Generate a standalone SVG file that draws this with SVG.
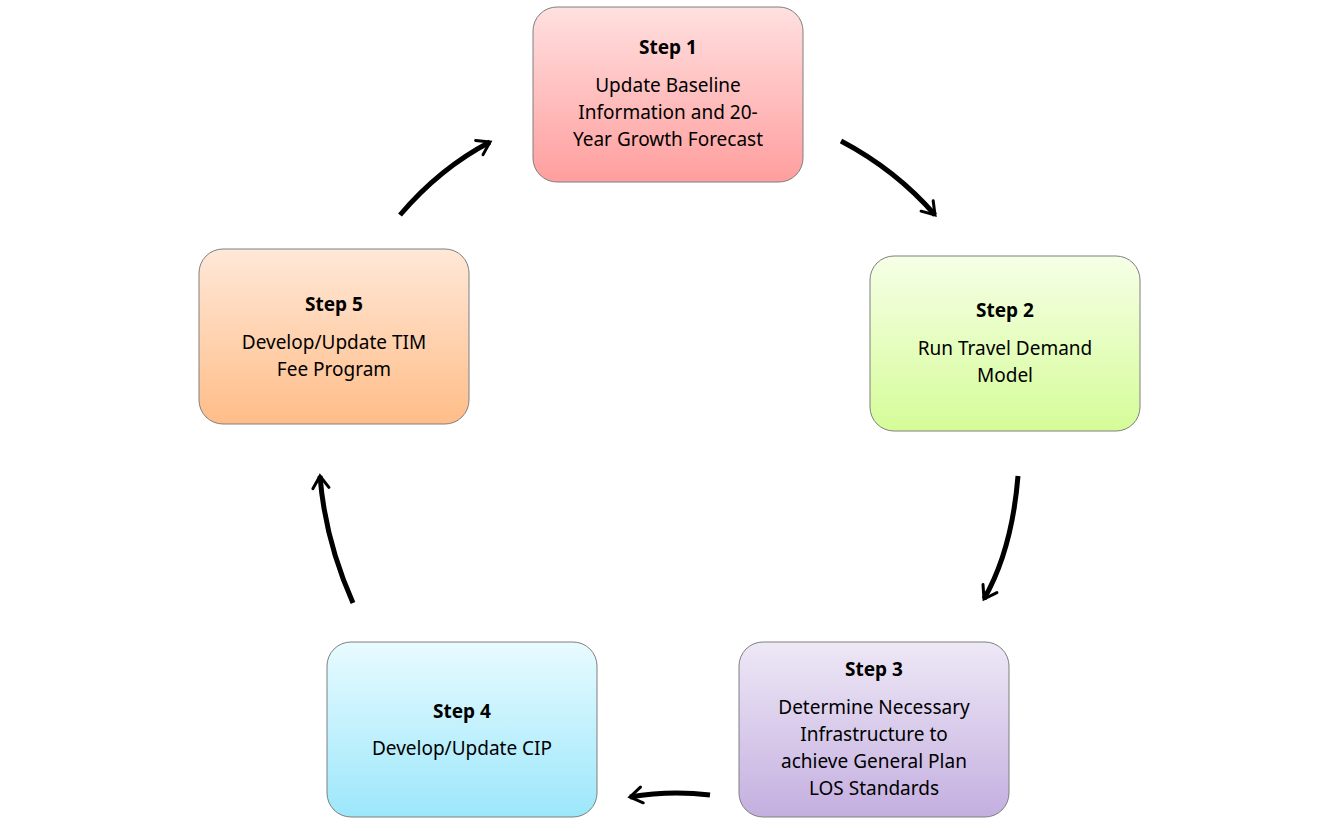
<svg xmlns="http://www.w3.org/2000/svg" width="1334" height="831" viewBox="0 0 1334 831">
<defs>
<linearGradient id="g1" x1="0" y1="0" x2="0" y2="1"><stop offset="0" stop-color="#ffe0e0"/><stop offset="1" stop-color="#ff9e9e"/></linearGradient>
<linearGradient id="g2" x1="0" y1="0" x2="0" y2="1"><stop offset="0" stop-color="#f6ffe6"/><stop offset="1" stop-color="#d5fc98"/></linearGradient>
<linearGradient id="g3" x1="0" y1="0" x2="0" y2="1"><stop offset="0" stop-color="#eee8f6"/><stop offset="1" stop-color="#c4afe0"/></linearGradient>
<linearGradient id="g4" x1="0" y1="0" x2="0" y2="1"><stop offset="0" stop-color="#e8fbff"/><stop offset="1" stop-color="#9ce7fb"/></linearGradient>
<linearGradient id="g5" x1="0" y1="0" x2="0" y2="1"><stop offset="0" stop-color="#ffe8d8"/><stop offset="1" stop-color="#ffbd88"/></linearGradient>
<marker id="ah" viewBox="0 0 10 10" refX="7" refY="5" markerWidth="4" markerHeight="4" orient="auto" markerUnits="strokeWidth"><path d="M1,1 L7,5 L1,9" fill="none" stroke="#000" stroke-width="1.5" stroke-linecap="round"/></marker>
</defs>
<style>
.box{stroke:#7f7f7f;stroke-width:1}
text{font-family:"Noto Sans","Open Sans",sans-serif;font-size:19px;fill:#000;text-anchor:middle}
.h{font-weight:bold}
.c{fill:none;stroke:#000;stroke-width:5;marker-end:url(#ah)}
</style>
<g id="step1"><rect class="box" x="533" y="7" width="270" height="175" rx="24" fill="url(#g1)"/>
<text class="h" x="668" y="54">Step 1</text><text x="668" y="92">Update Baseline</text><text x="668" y="119">Information and 20-</text><text x="668" y="146">Year Growth Forecast</text></g>
<g id="step2"><rect class="box" x="870" y="256" width="270" height="175" rx="24" fill="url(#g2)"/>
<text class="h" x="1005" y="317">Step 2</text><text x="1005" y="355">Run Travel Demand</text><text x="1005" y="382">Model</text></g>
<g id="step3"><rect class="box" x="739" y="642" width="270" height="175" rx="24" fill="url(#g3)"/>
<text class="h" x="874" y="676">Step 3</text><text x="874" y="714">Determine Necessary</text><text x="874" y="741">Infrastructure to</text><text x="874" y="768">achieve  General Plan</text><text x="874" y="795">LOS Standards</text></g>
<g id="step4"><rect class="box" x="327" y="642" width="270" height="175" rx="24" fill="url(#g4)"/>
<text class="h" x="462" y="718">Step 4</text><text x="462" y="755">Develop/Update CIP</text></g>
<g id="step5"><rect class="box" x="199" y="249" width="270" height="175" rx="24" fill="url(#g5)"/>
<text class="h" x="334" y="311">Step 5</text><text x="334" y="349">Develop/Update TIM</text><text x="334" y="376">Fee Program</text></g>
<g id="connectors">
<path class="c" d="M400,215 Q440,168 490,142"/>
<path class="c" d="M841,141 Q896,170 935,215"/>
<path class="c" d="M1018,476 Q1012,550 984,599"/>
<path class="c" d="M710,795 Q670,790 630,797"/>
<path class="c" d="M353,603 Q325,540 320,476"/>
</g>
</svg>
